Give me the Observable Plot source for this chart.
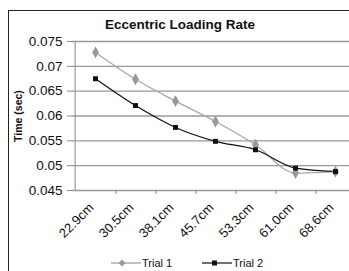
<!DOCTYPE html>
<html><head><meta charset="utf-8">
<script src="https://cdn.jsdelivr.net/npm/d3@7"></script>
<script src="https://cdn.jsdelivr.net/npm/@observablehq/plot@0.6"></script>
<style>
html,body{margin:0;padding:0;background:#fff;}
#wrap{position:relative;width:349px;height:271px;overflow:hidden;font-family:Arial,"Liberation Sans",sans-serif;background:#fff;}
#frame{position:absolute;left:8px;top:10px;width:400px;height:300px;border-left:1.5px solid #222;border-top:1.5px solid #222;}
#title{position:absolute;left:0;top:17px;width:360px;text-align:center;font-weight:bold;font-size:13.5px;color:#111;}
#ylab{position:absolute;left:18px;top:116px;transform:translate(-50%,-50%) rotate(-90deg);font-weight:bold;font-size:10.5px;color:#111;white-space:nowrap;}
#chart{position:absolute;left:0;top:0;width:360px;}
#chart svg{max-width:none !important;}
.leg{position:absolute;top:257px;font-size:11px;color:#111;display:flex;align-items:center;}
.leg svg{margin-right:1px;}
</style>
</head><body>
<div id="wrap">
<div id="frame"></div>
<div id="chart"></div>
<div id="title">Eccentric Loading Rate</div>
<div id="ylab">Time (sec)</div>
<div class="leg" style="left:111px"><svg width="30" height="12"><line x1="0" y1="6" x2="30" y2="6" stroke="#a0a0a0" stroke-width="1.3"/><path d="M11,2.5 L14.5,6 L11,9.5 L7.5,6Z" fill="#999"/></svg>Trial 1</div>
<div class="leg" style="left:202px"><svg width="30" height="12"><line x1="0" y1="6" x2="30" y2="6" stroke="#111" stroke-width="1.2"/><rect x="10" y="3.5" width="5" height="5" fill="#111"/></svg>Trial 2</div>
</div>
<script>
const categories = ["22.9cm","30.5cm","38.1cm","45.7cm","53.3cm","61.0cm","68.6cm"];
const trial1 = [0.0728, 0.0674, 0.0630, 0.0589, 0.0542, 0.0485, 0.0488];
const trial2 = [0.0675, 0.0621, 0.0577, 0.0549, 0.0532, 0.0495, 0.0488];
const yTicks = [0.045, 0.05, 0.055, 0.06, 0.065, 0.07, 0.075];

const d1 = categories.map((c,i)=>({x:c, y:trial1[i]}));
const d2 = categories.map((c,i)=>({x:c, y:trial2[i]}));

const W = 360, ML = 72, MR = 3;
const half = (W - ML - MR) / categories.length / 2;

const chart = Plot.plot({
  width: W, height: 271,
  marginTop: 41, marginBottom: 81, marginLeft: ML, marginRight: MR,
  x: {type: "point", domain: categories, padding: 0.5, axis: null},
  y: {domain: [0.045, 0.075], axis: null},
  marks: [
    Plot.gridY(yTicks, {stroke: "#999", strokeOpacity: 1, strokeWidth: 1.4}),
    Plot.ruleX(categories.slice(0, -1), {dx: half, y1: 0.045, y2: 0.045, insetBottom: -4, stroke: "#888"}),
    Plot.ruleX([categories[0]], {dx: -half, stroke: "#888"}),
    Plot.axisY({ticks: yTicks, label: null, tickSize: 5, stroke: "#888", tickPadding: 5, fontSize: 13.5, fill: "#111", tickFormat: d => String(+d.toFixed(3))}),
    Plot.axisX({label: null, tickSize: 0, tickRotate: -45, tickPadding: 15, dx: -4, fontSize: 13, fill: "#111", textAnchor: "end"}),
    Plot.line(d1, {x: "x", y: "y", stroke: "#a8a8a8", strokeWidth: 1.3, curve: "monotone-x"}),
    Plot.line(d2, {x: "x", y: "y", stroke: "#111", strokeWidth: 1.2, curve: "monotone-x"}),
    Plot.dot(d1, {x: "x", y: "y", symbol: "diamond", r: 3.6, fill: "#999", stroke: "none"}),
    Plot.dot(d2, {x: "x", y: "y", symbol: "square", r: 2.8, fill: "#111", stroke: "none"})
  ]
});
chart.style.background = "transparent";
chart.style.fontFamily = "Arial, 'Liberation Sans', sans-serif";
document.getElementById("chart").appendChild(chart);
</script>
</body></html>
